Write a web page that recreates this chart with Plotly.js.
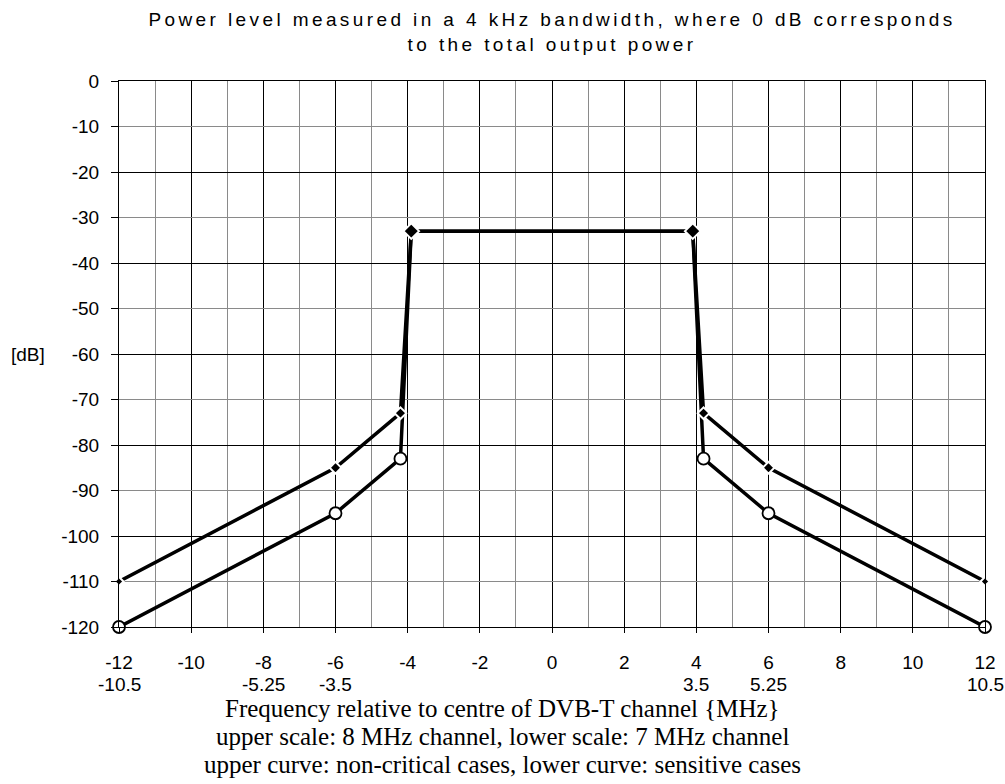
<!DOCTYPE html>
<html>
<head>
<meta charset="utf-8">
<script src="https://cdn.plot.ly/plotly-3.0.1.min.js"></script>
<style>
html,body{margin:0;padding:0;background:#fff;}
#chart{width:1005px;height:784px;}
.gtitle{letter-spacing:3.4px;}
</style>
</head>
<body>
<div id="chart"></div>
<script>
// Upper curve: non-critical cases
const upperX = [-12, -6, -4.2, -3.9, 3.9, 4.2, 6, 12];
const upperY = [-110, -85, -73, -33, -33, -73, -85, -110];
// Lower curve: sensitive cases
const lowerX = [-12, -6, -4.2, -3.9, 3.9, 4.2, 6, 12];
const lowerY = [-120, -95, -83, -33, -33, -83, -95, -120];
// Upper scale (8 MHz channel) tick labels
const xTickVals = [-12, -10, -8, -6, -4, -2, 0, 2, 4, 6, 8, 10, 12];
const xTickText = ['-12', '-10', '-8', '-6', '-4', '-2', '0', '2', '4', '6', '8', '10', '12'];
// Lower scale (7 MHz channel) labels and where they sit on the upper scale
const x7Pos = [-12, -8, -6, 4, 6, 12];
const x7Labels = ['-10.5', '-5.25', '-3.5', '3.5', '5.25', '10.5'];
// Y ticks
const yTickVals = [0, -10, -20, -30, -40, -50, -60, -70, -80, -90, -100, -110, -120];
const yTickText = ['0', '-10', '-20', '-30', '-40', '-50', '-60', '-70', '-80', '-90', '-100', '-110', '-120'];

const titleText = 'Power level measured in a 4 kHz bandwidth, where 0 dB corresponds<br>to the total output power';
const yLabel = '[dB]';
const xTitleLines = [
  'Frequency relative to centre of DVB-T channel {MHz}',
  'upper scale: 8 MHz channel, lower scale: 7 MHz channel',
  'upper curve: non-critical cases, lower curve: sensitive cases'
];

const sans = 'Liberation Sans, Arial, sans-serif';
const serif = 'Liberation Serif, Times New Roman, serif';

const lowerMarkerSizes = lowerX.map((_, i) => (i === 3 || i === 4) ? 0 : 12);
const upperMarkerSizes = upperX.map((_, i) => (i === 3 || i === 4) ? 12 : (i === 0 || i === 7 ? 7 : 9));

const traces = [
  {
    x: lowerX, y: lowerY, xaxis: 'x', yaxis: 'y',
    mode: 'lines+markers', cliponaxis: false,
    line: {color: '#000', width: 3.5},
    marker: {symbol: 'circle', size: lowerMarkerSizes, color: '#ffffff', opacity: 1, line: {color: '#000', width: 1.8}}
  },
  {
    x: upperX, y: upperY, xaxis: 'x', yaxis: 'y2',
    mode: 'lines+markers', cliponaxis: false,
    line: {color: '#000', width: 3.5},
    marker: {symbol: 'diamond', size: upperMarkerSizes, color: '#000', opacity: 1, line: {color: '#fff', width: 2}}
  }
];

const annotations = [];
x7Pos.forEach((p, i) => annotations.push({
  x: p, xref: 'x', y: 0, yref: 'paper', yanchor: 'middle', xanchor: 'center',
  yshift: -57, text: x7Labels[i], showarrow: false,
  font: {family: sans, size: 19, color: '#000'}
}));
xTitleLines.forEach((t, i) => annotations.push({
  x: (502.5 - 119) / 866, xref: 'paper', y: 0, yref: 'paper', yanchor: 'middle', xanchor: 'center',
  yshift: -81 - 28 * i, text: t, showarrow: false, borderpad: 0,
  font: {family: serif, size: 25, color: '#000'}
}));
annotations.push({
  x: 0, xref: 'paper', xshift: -91, xanchor: 'center',
  y: 0.5, yref: 'paper', yanchor: 'middle',
  text: yLabel, showarrow: false,
  font: {family: sans, size: 19, color: '#000'}
});

const layout = {
  width: 1005, height: 784,
  margin: {l: 119, r: 20, t: 81, b: 157, pad: 0},
  paper_bgcolor: '#fff', plot_bgcolor: '#fff',
  showlegend: false, hovermode: false,
  title: {
    text: titleText, x: 0.5, xref: 'paper', xanchor: 'center',
    y: 1 - 26 / 784, yref: 'container', yanchor: 'top',
    font: {family: sans, size: 19, color: '#000'}
  },
  xaxis: {
    range: [-12, 12], tickmode: 'array', tickvals: xTickVals, ticktext: xTickText,
    ticks: 'outside', ticklen: 5, tickcolor: '#000', tickwidth: 1,
    ticklabelstandoff: 13,
    showgrid: true, gridcolor: '#000', gridwidth: 1, zeroline: false,
    showline: true, linecolor: '#000', linewidth: 1, mirror: true,
    minor: {dtick: 1, tick0: 0, showgrid: true, gridcolor: '#8a8a8a', gridwidth: 1, ticks: ''},
    tickfont: {family: sans, size: 19, color: '#000'}
  },
  yaxis: {
    range: [-120, 0], tickmode: 'array', tickvals: yTickVals, ticktext: yTickText,
    ticks: 'outside', ticklen: 7, tickcolor: '#000', tickwidth: 1,
    ticklabelstandoff: 8,
    showgrid: true, gridcolor: '#8a8a8a', gridwidth: 1, zeroline: false,
    showline: true, linecolor: '#000', linewidth: 1, mirror: true,
    tickfont: {family: sans, size: 19, color: '#000'}
  },
  yaxis2: {
    range: [-120, 0], overlaying: 'y', side: 'left', anchor: 'x',
    tickmode: 'linear', tick0: 0, dtick: 20, showticklabels: false, ticks: '',
    showgrid: true, gridcolor: '#000', gridwidth: 1, zeroline: false, showline: false
  },
  annotations: annotations
};

Plotly.newPlot('chart', traces, layout, {staticPlot: true, displayModeBar: false});
</script>
</body>
</html>
